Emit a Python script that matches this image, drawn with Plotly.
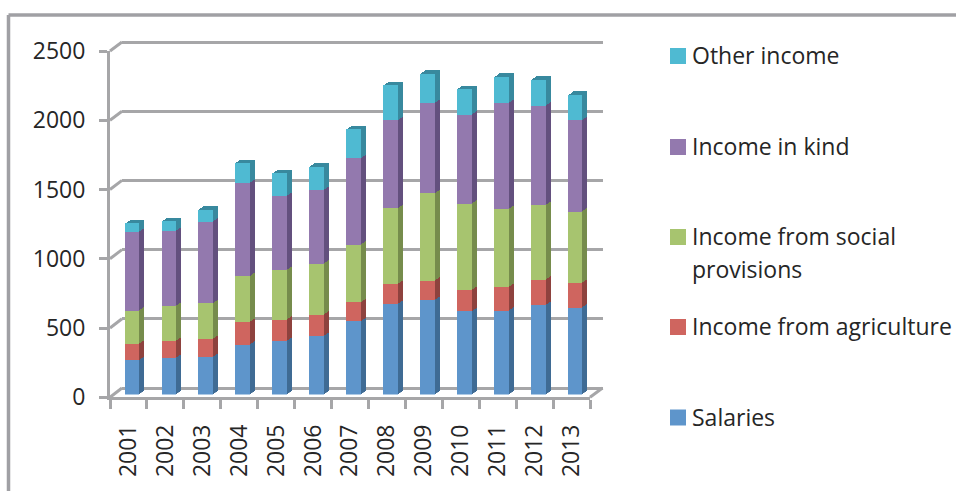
import plotly.graph_objects as go

years = ["2001","2002","2003","2004","2005","2006","2007","2008","2009","2010","2011","2012","2013"]
salaries    = [248,265,272,361,386,424,530,653,684,602,605,646,627]
agriculture = [118,121,130,162,154,152,135,145,138,152,171,183,178]
social      = [239,253,258,332,359,369,417,547,631,624,564,540,516]
in_kind     = [569,542,588,673,535,532,624,636,651,644,764,718,660]
other       = [62,72,87,144,164,169,209,251,212,183,190,186,183]

series_names = ["Salaries","Income from agriculture","Income from social provisions","Income in kind","Other income"]
series_vals = [salaries, agriculture, social, in_kind, other]
face_colors = ["#5E95CB","#CF655F","#A7C46F","#9379AE","#4FBAD2"]
side_colors = ["#3F6B94","#8E423E","#768C4C","#63507E","#38899E"]
y_ticks = [0,500,1000,1500,2000,2500]
GREY = "#A6A6A8"
W, H = 956, 491

def px(v): return v / W
def py(v): return 1 - v / H

fig = go.Figure()

def add_axes(i, x0, x1, y_bottom, y_top, **kw):
    sx = "" if i == 1 else str(i)
    xa = dict(domain=[px(x0), px(x1)], type="category", range=[-0.5, 12.5],
              categoryorder="array", categoryarray=years, anchor="y"+sx,
              visible=False, showgrid=False, zeroline=False)
    ya = dict(domain=[py(y_bottom), py(y_top)], range=[0, 2500], anchor="x"+sx,
              visible=False, showgrid=False, zeroline=False)
    xa.update(kw.get("xa", {})); ya.update(kw.get("ya", {}))
    fig.layout["xaxis"+sx] = xa
    fig.layout["yaxis"+sx] = ya
    return "x"+sx, "y"+sx

def add_stack(xr, yr, colors):
    for name, vals, c in zip(series_names, series_vals, colors):
        fig.add_trace(go.Bar(x=years, y=vals, name=name, marker=dict(color=c, line=dict(width=0)),
                             xaxis=xr, yaxis=yr, showlegend=False, width=0.4))

# back wall gridlines (range padded so the 0 and 2500 lines are kept)
PAD = 100
pad_px = PAD / 2500 * 346
xr, yr = add_axes(1, 122, 602.5, 388 + pad_px, 42 - pad_px, ya=dict(visible=True, showgrid=True, gridcolor=GREY, gridwidth=3,
        range=[-PAD, 2500 + PAD], tickmode="array", tickvals=y_ticks, showticklabels=False, ticks="", showline=False))
fig.add_trace(go.Bar(x=years, y=[0]*13, xaxis=xr, yaxis=yr, showlegend=False, marker_opacity=0))

# depth layers, back to front, then the front faces
idx = 2
DEPTH = 5
for k in range(DEPTH, 0, -1):
    dx, dy = 3.5 + k, 2.7 + k * 0.67
    xr, yr = add_axes(idx, 110 + dx, 590 + dx, 397.3 - dy, 51 - dy)
    add_stack(xr, yr, side_colors)
    idx += 1
xr, yr = add_axes(idx, 113.5, 593.5, 394.6, 48.3)
add_stack(xr, yr, face_colors)
idx += 1

# front axes with ticks and labels
font = dict(family="Open Sans", size=23, color="#262626")
xr, yr = add_axes(idx, 110, 590, 397.3, 51,
    xa=dict(visible=True, showline=True, linecolor=GREY, linewidth=3, ticks="outside", tickson="boundaries",
            ticklen=9, tickwidth=3, tickcolor=GREY, tickangle=-90, tickfont=font, ticklabelstandoff=15),
    ya=dict(visible=True, showline=True, linecolor=GREY, linewidth=3, ticks="outside", ticklen=8, tickwidth=3,
            tickcolor=GREY, tickmode="array", tickvals=y_ticks, ticktext=[str(t) for t in y_ticks],
            tickfont=font, ticklabelstandoff=9))
fig.add_trace(go.Bar(x=years, y=[0]*13, xaxis=xr, yaxis=yr, showlegend=False, marker_opacity=0))

shapes = []
# outer frame
shapes.append(dict(type="line", xref="paper", yref="paper", x0=px(8.5), x1=1, y0=py(15), y1=py(15), line=dict(color="#A0A0A4", width=3.5)))
shapes.append(dict(type="line", xref="paper", yref="paper", x0=px(8.5), x1=px(8.5), y0=py(15), y1=0, line=dict(color="#A0A0A4", width=3.5)))
# wall connectors
for t in y_ticks:
    yf = 397.3 - t / 2500 * 346.3
    yb = 388 - t / 2500 * 346
    shapes.append(dict(type="line", xref="paper", yref="paper", layer="below", x0=px(110), x1=px(122), y0=py(yf), y1=py(yb),
                       line=dict(color=GREY, width=3)))
shapes.append(dict(type="line", xref="paper", yref="paper", layer="below", x0=px(590), x1=px(602.5), y0=py(397.3), y1=py(388),
                   line=dict(color=GREY, width=3)))

# legend
legend_rows = [("Other income", 4, 56), ("Income in kind", 3, 147), ("Income from social", 2, 237),
               ("provisions", None, 270), ("Income from agriculture", 1, 327), ("Salaries", 0, 417.5)]
anns = []
for text, si, yc in legend_rows:
    anns.append(dict(text=text, xref="paper", yref="paper", x=px(690), y=py(yc), xanchor="left", yanchor="middle",
                     showarrow=False, font=font, yshift=1))
    if si is not None:
        shapes.append(dict(type="rect", xref="paper", yref="paper", x0=px(670), x1=px(686), y0=py(yc-8), y1=py(yc+8),
                           fillcolor=face_colors[si], line=dict(width=0)))

fig.update_layout(width=W, height=H, margin=dict(l=0, r=0, t=0, b=0, autoexpand=False), paper_bgcolor="white",
                  plot_bgcolor="rgba(0,0,0,0)", barmode="stack", shapes=shapes, annotations=anns, showlegend=False)
fig.write_html("out.html", config=dict(displayModeBar=False),
               post_script="document.body.style.margin='0';document.documentElement.style.overflow='hidden';")
